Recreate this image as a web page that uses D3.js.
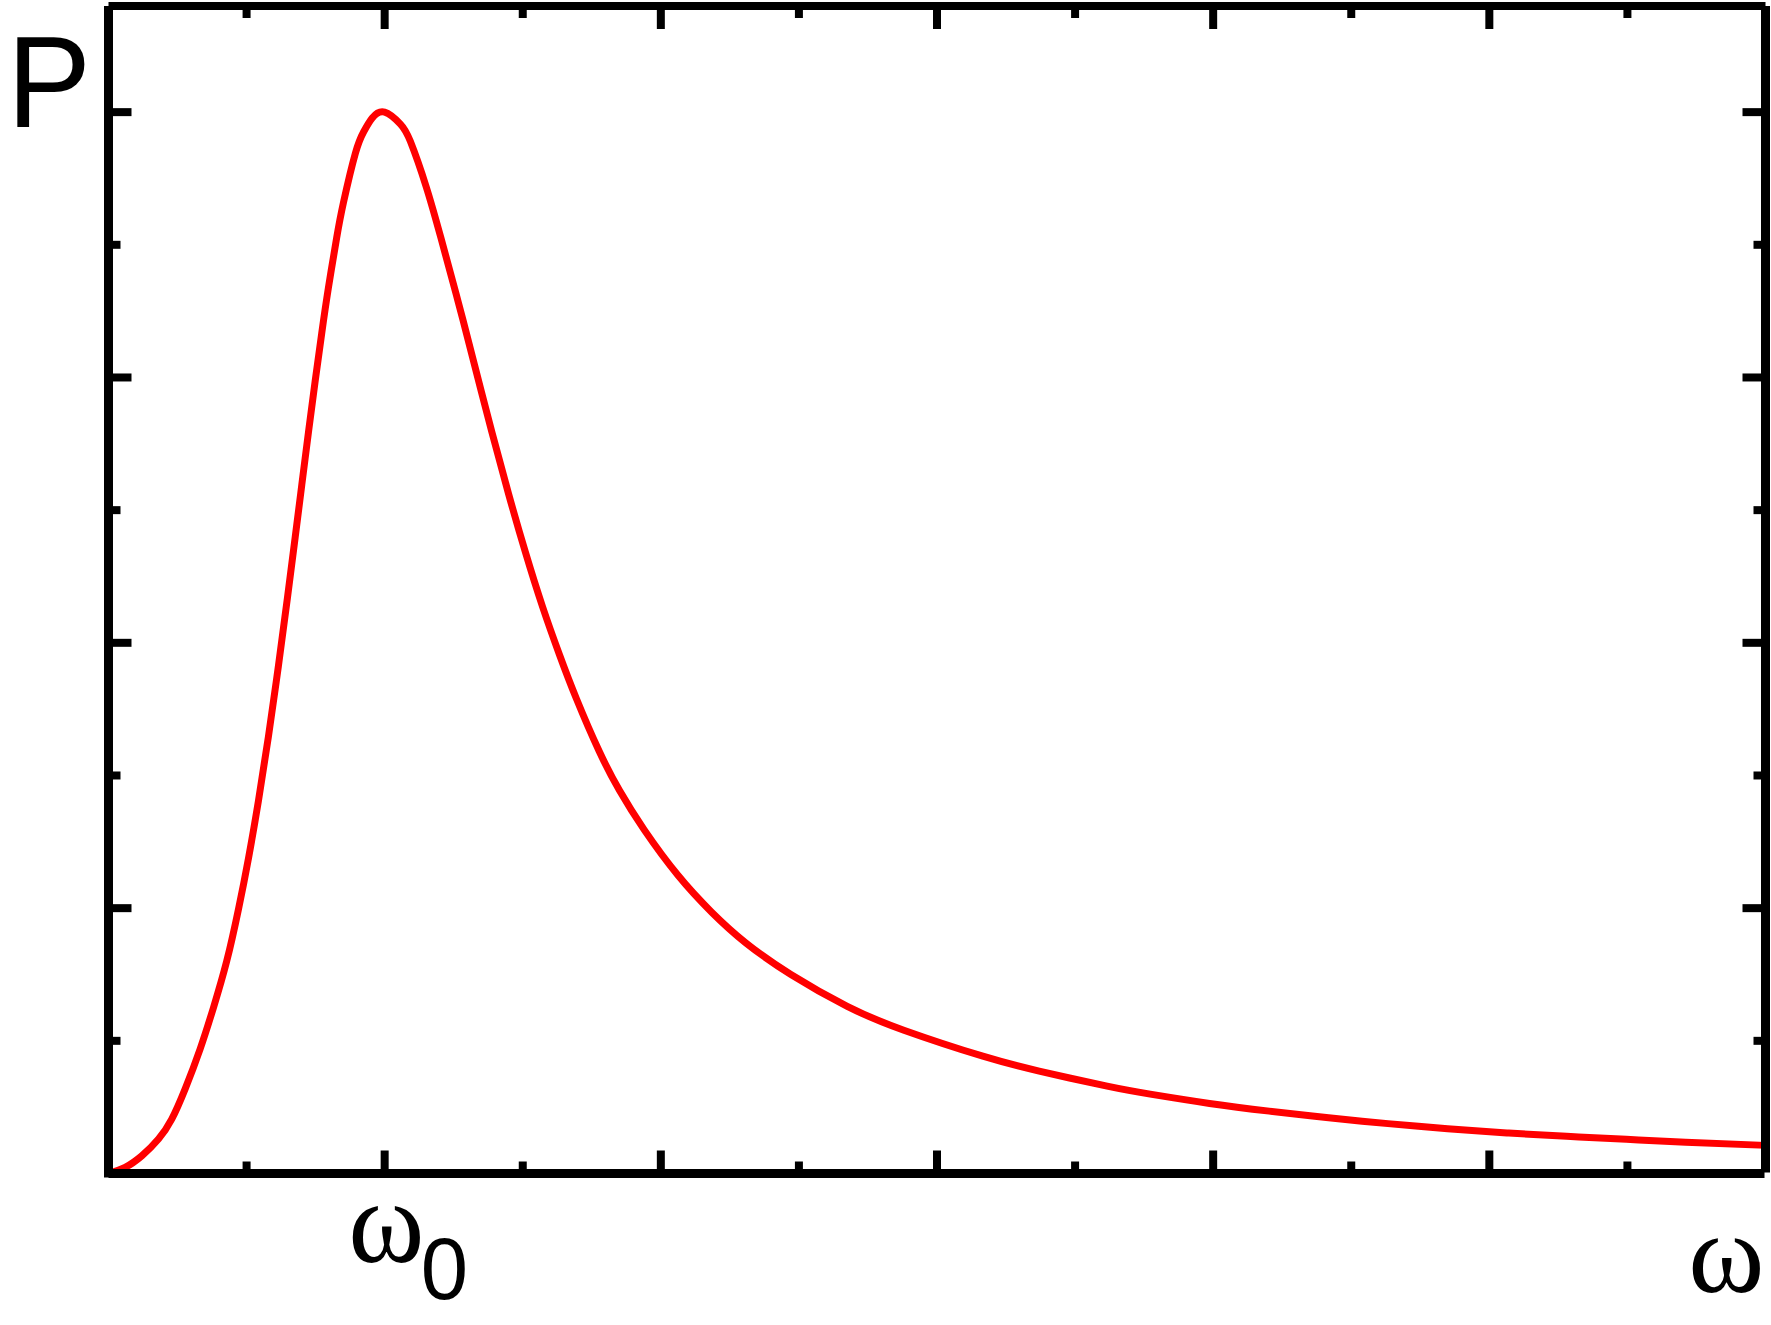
<!DOCTYPE html>
<html>
<head>
<meta charset="utf-8">
<script src="https://cdn.jsdelivr.net/npm/d3@7"></script>
<style>
html,body{margin:0;padding:0;background:#fff;}
svg{display:block;}
</style>
</head>
<body>
<svg id="chart" width="1771" height="1325"></svg>
<script>
// ---- data ----
const omega = [0, 0.06, 0.121, 0.181, 0.229, 0.278, 0.332, 0.380, 0.428, 0.471, 0.507, 0.543, 0.579, 0.615, 0.648, 0.676, 0.700, 0.724, 0.748, 0.772, 0.796, 0.826, 0.851, 0.894, 0.924, 0.955, 1.0,
  1.057, 1.093, 1.15, 1.204, 1.265, 1.326, 1.388, 1.449, 1.51, 1.572, 1.633, 1.694, 1.776, 1.85, 1.94, 2.062, 2.185, 2.308, 2.471, 2.675, 2.88, 3.166, 3.37, 3.616, 3.772, 3.987, 4.203, 4.418, 4.633, 4.849, 5.064, 5.280, 5.496, 5.711, 6.0];
const power = [0, 0.023, 0.067, 0.13, 0.205, 0.32, 0.47, 0.625, 0.80, 0.998, 1.189, 1.405, 1.646, 1.911, 2.17, 2.398, 2.596, 2.793, 2.984, 3.166, 3.336, 3.525, 3.66, 3.845, 3.926, 3.978, 4.0,
  3.955, 3.89, 3.72, 3.525, 3.29, 3.045, 2.795, 2.56, 2.34, 2.135, 1.955, 1.79, 1.593, 1.444, 1.295, 1.124, 0.984, 0.869, 0.75, 0.63, 0.54, 0.442, 0.386, 0.329, 0.299, 0.264, 0.235, 0.21, 0.188, 0.169, 0.153, 0.14, 0.129, 0.118, 0.106];
const xMajorTicks = [1, 2, 3, 4, 5];
const xMinorTicks = [0.5, 1.5, 2.5, 3.5, 4.5, 5.5];
const yMajorTicks = [1, 2, 3, 4];
const yMinorTicks = [0.5, 1.5, 2.5, 3.5];
const xDomain = [0, 6];
const yDomain = [0, 4.4];
const yLabel = "P";
const xLabel = "ω";
const peakLabel = "ω";
const peakSub = "0";

// ---- layout ----
const L = 108.5, R = 1765.5, T = 6, B = 1173.5;
const svg = d3.select("#chart");
const x = d3.scaleLinear().domain(xDomain).range([L, R]);
const y = d3.scaleLinear().domain(yDomain).range([B, T]);

const MAJ = 23, MIN = 12, TW = 8;

function styleAxis(g) {
  g.select(".domain").remove();
  g.selectAll(".tick line").attr("stroke", "#000").attr("stroke-width", TW).attr("stroke-linecap", "butt");
  g.selectAll(".tick text").remove();
}
function addAxis(axisFn, scale, ticks, size, tx, ty) {
  svg.append("g").attr("transform", `translate(${tx},${ty})`)
    .call(axisFn(scale).tickValues(ticks).tickSize(-size).tickFormat("").offset(0))
    .call(styleAxis);
}
addAxis(d3.axisBottom, x, xMajorTicks, MAJ, 0, B);
addAxis(d3.axisBottom, x, xMinorTicks, MIN, 0, B);
addAxis(d3.axisTop, x, xMajorTicks, MAJ, 0, T);
addAxis(d3.axisTop, x, xMinorTicks, MIN, 0, T);
addAxis(d3.axisLeft, y, yMajorTicks, MAJ, L, 0);
addAxis(d3.axisLeft, y, yMinorTicks, MIN, L, 0);
addAxis(d3.axisRight, y, yMajorTicks, MAJ, R, 0);
addAxis(d3.axisRight, y, yMinorTicks, MIN, R, 0);

// curve
const pts = omega.map((w, i) => [w, power[i]]);
svg.append("path")
  .datum(pts)
  .attr("fill", "none")
  .attr("stroke", "#ff0000")
  .attr("stroke-width", 7)
  .attr("stroke-linejoin", "round")
  .attr("d", d3.line().x(d => x(d[0])).y(d => y(d[1])).curve(d3.curveNatural));

// frame
const frame = svg.append("g").attr("stroke", "#000").attr("stroke-linecap", "butt");
frame.append("line").attr("x1", L).attr("x2", L).attr("y1", T).attr("y2", B + 4).attr("stroke-width", 9);
frame.append("line").attr("x1", L).attr("x2", R).attr("y1", T).attr("y2", T).attr("stroke-width", 8);
frame.append("line").attr("x1", R).attr("x2", R).attr("y1", T).attr("y2", B - 1).attr("stroke-width", 9);
frame.append("line").attr("x1", L).attr("x2", R - 1).attr("y1", B).attr("y2", B).attr("stroke-width", 9);

// labels: fit each glyph's ink box to the box it occupies in the reference
const ctx = document.createElement("canvas").getContext("2d");
function fitText(str, family, box) {
  const base = 100;
  ctx.font = `${base}px ${family}`;
  const m = ctx.measureText(str);
  const inkW = m.actualBoundingBoxLeft + m.actualBoundingBoxRight;
  const inkH = m.actualBoundingBoxAscent + m.actualBoundingBoxDescent;
  const sx = (box[2] - box[0]) / inkW;
  const sy = (box[3] - box[1]) / inkH;
  const ox = box[0] + m.actualBoundingBoxLeft * sx;
  const oy = box[3] - m.actualBoundingBoxDescent * sy;
  svg.append("text")
    .attr("transform", `translate(${ox},${oy}) scale(${sx},${sy})`)
    .attr("font-family", family).attr("font-size", base)
    .attr("fill", "#000").text(str);
}
const SANS = '"Liberation Sans"';
const SERIF = '"Liberation Serif"';
fitText(yLabel, SANS, [17, 37, 85, 127]);
fitText(peakLabel, SERIF, [351.7, 1206.7, 420, 1263.3]);
fitText(peakSub, SANS, [423.3, 1238.3, 465, 1300]);
fitText(xLabel, SERIF, [1691.7, 1238.3, 1760, 1292.7]);
</script>
</body>
</html>
